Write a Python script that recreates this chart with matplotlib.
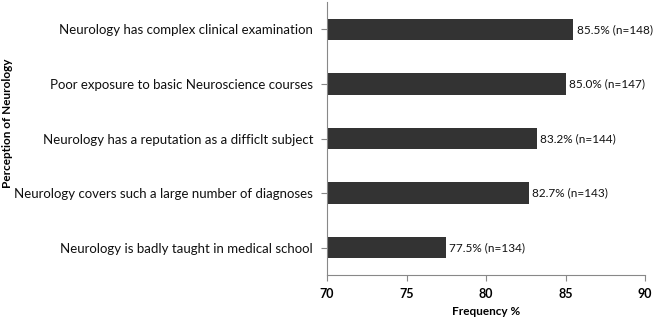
import matplotlib
matplotlib.use("Agg")
import matplotlib.pyplot as plt

categories = [
    "Neurology has complex clinical examination",
    "Poor exposure to basic Neuroscience courses",
    "Neurology has a reputation as a difficlt subject",
    "Neurology covers such a large number of diagnoses",
    "Neurology is badly taught in medical school",
]
values = [85.5, 85.0, 83.2, 82.7, 77.5]
counts = [148, 147, 144, 143, 134]
xticks = [70, 75, 80, 85, 90]

plt.rcParams['font.family'] = ['Lato', 'DejaVu Sans']

fig = plt.figure(figsize=(6.56, 3.23), dpi=100)
ax = fig.add_axes([327/656, 1 - 275/323, (645-327)/656, (275-2)/323])

ypos = list(range(len(categories)))[::-1]
ax.barh(ypos, [v - 70 for v in values], left=70, height=0.39, color='#333333')
for y, v, n in zip(ypos, values, counts):
    ax.text(v + 0.2, y, f"{v:.1f}% (n={n})", va='center', ha='left', fontsize=8.5, color='#111111')

ax.set_xlim(70, 90)
ax.set_ylim(-0.5, len(categories) - 0.5)
ax.set_xticks(xticks)
ax.set_xticklabels([str(t) for t in xticks], fontweight='bold', fontsize=9)
ax.set_yticks(ypos)
ax.set_yticklabels(categories, fontsize=9.5, color='#111111')
for s in ['top', 'right']:
    ax.spines[s].set_visible(False)
for s in ['left', 'bottom']:
    ax.spines[s].set_color('#888888')
ax.tick_params(axis='both', color='#888888', length=4)
ax.tick_params(axis='x', pad=5)
ax.tick_params(axis='y', pad=6)
ax.set_xlabel("Frequency %", fontweight='bold', fontsize=8.5, labelpad=5)
fig.text(8/656, 1 - 123/323, "Perception of Neurology", rotation=90, fontweight='bold',
         fontsize=8.5, ha='center', va='center')

fig.savefig("out.png", dpi=100)
